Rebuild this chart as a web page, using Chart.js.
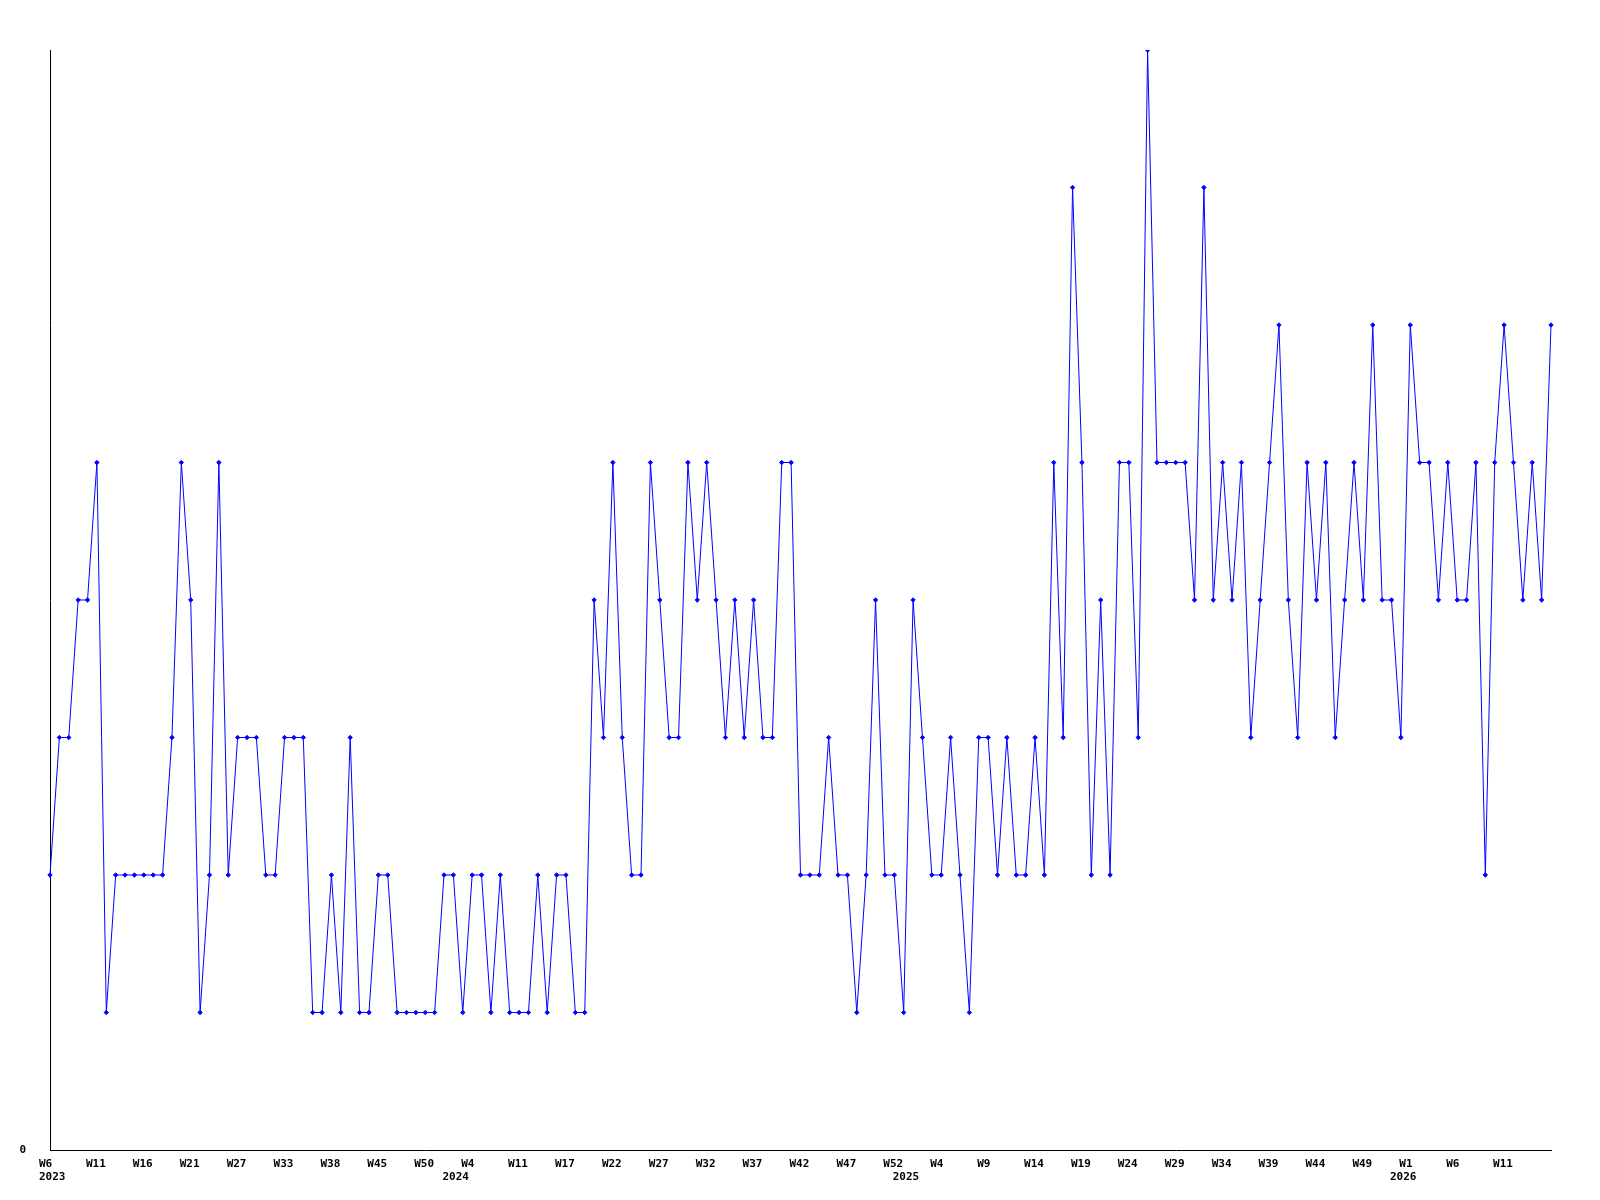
<!DOCTYPE html>
<html>
<head>
<meta charset="utf-8">
<script src="https://cdn.jsdelivr.net/npm/chart.js@4"></script>
<style>
  html, body { margin: 0; padding: 0; background: #fff; }
  #wrap { width: 1600px; height: 1200px; }
</style>
</head>
<body>
<div id="wrap"><canvas id="chart" width="1600" height="1200"></canvas></div>
<script>
// weekly values, W6 2023 .. W15 2026 (161 points)
const values = [
  2,3,3,4,4,5,1,2,2,2,
  2,2,2,3,5,4,1,2,5,2,
  3,3,3,2,2,3,3,3,1,1,
  2,1,3,1,1,2,2,1,1,1,
  1,1,2,2,1,2,2,1,2,1,
  1,1,2,1,2,2,1,1,4,3,
  5,3,2,2,5,4,3,3,5,4,
  5,4,3,4,3,4,3,3,5,5,
  2,2,2,3,2,2,1,2,4,2,
  2,1,4,3,2,2,3,2,1,3,
  3,2,3,2,2,3,2,5,3,7,
  5,2,4,2,5,5,3,8,5,5,
  5,5,4,7,4,5,4,5,3,4,
  5,6,4,3,5,4,5,3,4,5,
  4,6,4,4,3,6,5,5,4,5,
  4,4,5,2,5,6,5,4,5,4,
  6
];

// visible week labels, one every 5th point
const tickLabels = [
  'W6','W11','W16','W21','W27','W33','W38','W45','W50',
  'W4','W11','W17','W22','W27','W32','W37','W42','W47','W52',
  'W4','W9','W14','W19','W24','W29','W34','W39','W44','W49',
  'W1','W6','W11'
];
const tickStep = 5;
// year labels, keyed by the point where the year starts
const yearTicks = { 0: '2023', 43: '2024', 91: '2025', 144: '2026' };

const categories = values.map((v, i) => {
  const w = (i % tickStep === 0) ? (tickLabels[i / tickStep] || '') : '';
  return yearTicks[i] ? [w, yearTicks[i]] : w;
});

Chart.defaults.font.family = "'DejaVu Sans Mono', monospace";
Chart.defaults.font.size = 11;
Chart.defaults.font.weight = 'bold';
Chart.defaults.color = '#000';

new Chart(document.getElementById('chart'), {
  type: 'line',
  data: {
    labels: categories,
    datasets: [{
      data: values,
      borderColor: '#0000ff',
      backgroundColor: '#0000ff',
      borderWidth: 1,
      tension: 0,
      pointStyle: 'rectRot',
      pointRadius: 2.2,
      pointBorderWidth: 1,
      fill: false
    }]
  },
  options: {
    responsive: false,
    animation: false,
    devicePixelRatio: 1,
    layout: { padding: { top: 50, right: 49, bottom: 0, left: 0 } },
    plugins: { legend: { display: false }, tooltip: { enabled: false } },
    scales: {
      x: {
        type: 'category',
        offset: false,
        grid: { display: false, drawTicks: false },
        border: { display: true, color: '#000', width: 1 },
        ticks: {
          autoSkip: false, maxRotation: 0, minRotation: 0,
          align: 'start', labelOffset: -11, padding: 7,
          font: { lineHeight: 1.25 }
        },
        afterFit: s => { s.height = 50; }
      },
      y: {
        min: 0,
        max: 8,
        grid: { display: false, drawTicks: false },
        border: { display: true, color: '#000', width: 1 },
        ticks: { padding: 24 },
        afterBuildTicks: s => { s.ticks = [{ value: 0 }]; },
        afterFit: s => { s.width = 50; }
      }
    }
  }
});
</script>
</body>
</html>
